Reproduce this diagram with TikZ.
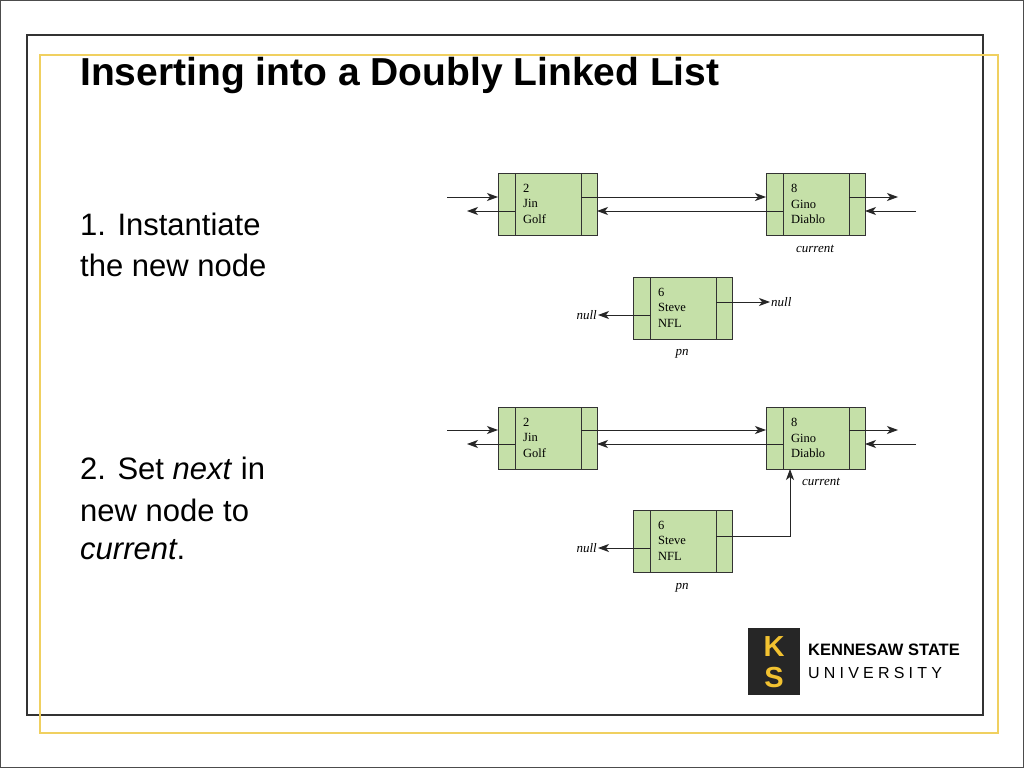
\documentclass[tikz,border=0pt]{standalone}
\usepackage{fontspec}
\setmainfont{Liberation Sans}
\newfontfamily\nodefont{Liberation Serif}
\usetikzlibrary{arrows.meta}
\definecolor{nodegreen}{HTML}{C5E0A8}
\definecolor{ksugold}{HTML}{F2C230}
\definecolor{frameyellow}{HTML}{F0D060}
\tikzset{
  x=1pt,y=-1pt,
  cell/.style={draw=black!80,fill=nodegreen,line width=0.9pt},
  ptr/.style={line width=0.8pt,black!85,-{Stealth[length=11pt,width=8pt,inset=3pt]}},
  dtext/.style={font=\nodefont\fontsize{12.5}{15.5}\selectfont,align=left,anchor=north west,inner sep=0pt},
  lab/.style={font=\nodefont\itshape\fontsize{13}{15}\selectfont,inner sep=1pt},
  body/.style={font=\fontsize{31}{36}\selectfont,anchor=west,inner sep=0pt}
}
\newcommand{\llnode}[4]{% name, x0, y0, text
  \draw[cell] (#2,#3) rectangle ++(99,62);
  \draw[black!80,line width=0.9pt] (#2+17,#3) -- ++(0,62) (#2+83,#3) -- ++(0,62);
  \node[dtext] (#1) at (#2+25,#3+11) {#4};
}
\begin{document}
\begin{tikzpicture}
\useasboundingbox (0,0) rectangle (1024,768);
\fill[white] (0,0) rectangle (1024,768);
\draw[black!70,line width=1pt] (0.5,0.5) rectangle (1023.5,767.5);
\draw[black!80,line width=1.2pt] (27,35) rectangle (983,715);
\draw[frameyellow,line width=1.5pt] (40,55) rectangle (998,733);
\node[font=\bfseries\fontsize{39}{44}\selectfont,anchor=west,inner sep=0pt] (title) at (80,76) {Inserting into a Doubly Linked List};
\node[body] (s1a) at (80,224) {1. Instantiate};
\node[body] (s1b) at (80,265) {the new node};
\node[body] (s2a) at (80,468) {2. Set \textit{next} in};
\node[body] (s2b) at (80,510) {new node to};
\node[body] (s2c) at (80,550) {\textit{current}.};
% ---- top diagram
\llnode{a}{498}{173}{2\\Jin\\Golf}
\llnode{b}{766}{173}{8\\Gino\\Diablo}
\llnode{c}{633}{277}{6\\Steve\\NFL}
\coordinate (ainL) at (447,197); \coordinate (aoutL) at (467,211);
\coordinate (boutR) at (898,197); \coordinate (binR) at (916,211);
\draw[ptr] (ainL) -- (498,197);
\draw[ptr] (515,211) -- (aoutL);
\draw[ptr] (581,197) -- (766,197);
\draw[ptr] (783,211) -- (597,211);
\draw[ptr] (849,197) -- (boutR);
\draw[ptr] (binR) -- (865,211);
\node[lab] (cur1) at (815,249) {current};
\node[lab,anchor=west] (n1) at (770,302) {null};
\node[lab,anchor=east] (n2) at (598,315) {null};
\draw[ptr] (716,302) -- (n1);
\draw[ptr] (650,315) -- (n2);
\node[lab] (pn1) at (682,354) {pn};
% ---- bottom diagram
\llnode{d}{498}{407}{2\\Jin\\Golf}
\llnode{e}{766}{407}{8\\Gino\\Diablo}
\llnode{f}{633}{510}{6\\Steve\\NFL}
\coordinate (dinL) at (447,430); \coordinate (doutL) at (467,444);
\coordinate (eoutR) at (898,430); \coordinate (einR) at (916,444);
\draw[ptr] (dinL) -- (498,430);
\draw[ptr] (515,444) -- (doutL);
\draw[ptr] (581,430) -- (766,430);
\draw[ptr] (783,444) -- (597,444);
\draw[ptr] (849,430) -- (eoutR);
\draw[ptr] (einR) -- (865,444);
\node[lab] (cur2) at (821,482) {current};
\node[lab,anchor=east] (n3) at (598,548) {null};
\draw[ptr] (650,548) -- (n3);
\draw[ptr] (716,536) -| (790,469);
\node[lab] (pn2) at (682,588) {pn};
% ---- logo
\fill[black!85] (748,628) rectangle (800,695);
\node[font=\bfseries\fontsize{29}{31}\selectfont,text=ksugold,align=center,inner sep=0pt] (mono) at (774,662) {K\\S};
\node[font=\bfseries\fontsize{16.5}{18}\selectfont,anchor=west,inner sep=0pt] (ksu1) at (808,650) {KENNESAW STATE};
\node[font=\fontsize{16}{18}\selectfont,anchor=west,inner sep=0pt] (ksu2) at (808,673) {U\hspace{4.2pt}N\hspace{4.2pt}I\hspace{4.2pt}V\hspace{4.2pt}E\hspace{4.2pt}R\hspace{4.2pt}S\hspace{4.2pt}I\hspace{4.2pt}T\hspace{4.2pt}Y};
\end{tikzpicture}
\end{document}
